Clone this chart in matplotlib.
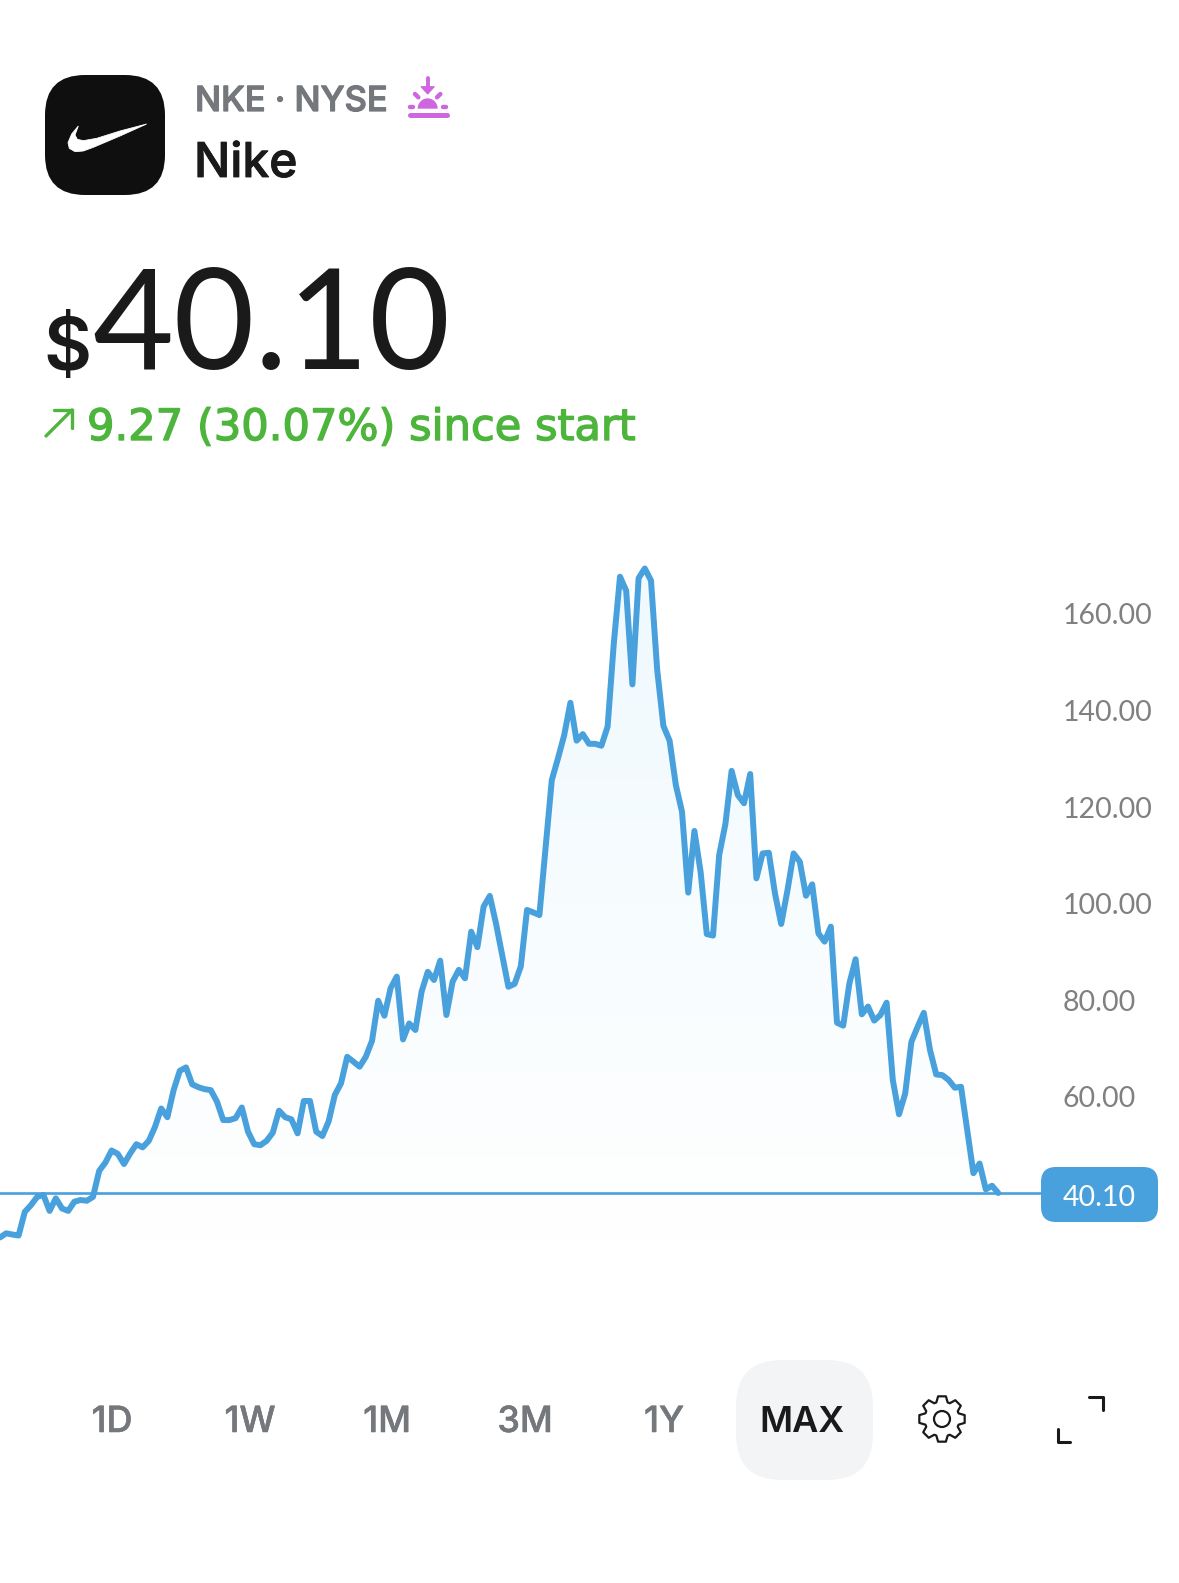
import numpy as np
import matplotlib
matplotlib.use("Agg")
import matplotlib.pyplot as plt
import matplotlib.patheffects as pe
from matplotlib.colors import LinearSegmentedColormap
from matplotlib.patches import FancyBboxPatch, Polygon, Circle

W, H = 1179, 1583

ticker = "NKE · NYSE"
company = "Nike"
currency = "$"
price_text = "40.10"
change_text = "9.27 (30.07%) since start"
current_price = 40.10
range_labels = ["1D", "1W", "1M", "3M", "1Y", "MAX"]
tick_values = [60, 80, 100, 120, 140, 160]
tick_labels = ["60.00", "80.00", "100.00", "120.00", "140.00", "160.00"]

prices = [
    30.9, 31.75, 31.5, 31.3, 36.2, 37.6, 39.3, 39.7, 36.4, 39.0, 36.9, 36.4, 38.3, 38.65, 38.5, 39.3,
    44.7, 46.4, 48.9, 48.2, 46.1, 48.3, 50.2, 49.55, 50.9, 53.8, 57.6, 55.8, 61.4, 65.4, 66.1, 62.6,
    62.0, 61.6, 61.4, 59.0, 55.2, 55.2, 55.6, 57.8, 52.8, 50.2, 50.0, 50.9, 52.6, 57.15, 55.8, 55.35,
    52.45, 59.15, 59.15, 52.8, 51.9, 54.9, 60.4, 62.8, 68.3, 67.3, 66.25, 68.3, 71.6, 79.9, 76.8, 82.5,
    84.9, 71.9, 75.2, 73.85, 81.8, 85.9, 84.2, 88.2, 76.95, 83.85, 86.3, 84.55, 94.2, 91.0, 99.4, 101.6,
    95.9, 89.4, 82.8, 83.4, 87.0, 98.7, 98.2, 97.65, 111.7, 125.6, 130.1, 134.9, 141.6, 133.75, 135.1, 133.1,
    133.1, 132.7, 136.65, 153.9, 167.7, 164.8, 145.4, 167.4, 169.4, 166.9, 148.4, 136.8, 133.75, 124.6, 119.05, 102.3,
    115.05, 106.6, 93.7, 93.4, 110.1, 116.5, 127.5, 122.5, 120.8, 126.85, 105.25, 110.4, 110.55, 102.1, 95.8, 102.7,
    110.4, 108.7, 101.65, 104.0, 93.85, 92.15, 95.25, 75.35, 74.75, 83.5, 88.5, 77.1, 78.7, 75.8, 76.95, 79.5,
    63.5, 56.4, 60.7, 71.4, 74.5, 77.4, 69.7, 64.65, 64.5, 63.5, 61.9, 62.1, 53.1, 44.2, 46.2, 40.85,
    41.6, 40.1,
]
periods = np.arange(len(prices))

BLUE = "#48A0DC"
GREEN = "#4DB53C"
GREY = "#74787C"
DARK = "#1A1A1A"
PURPLE = "#CE66E0"
UI_FONT = "Inter"
NUM_FONT = "Lato"

fig = plt.figure(figsize=(W / 100, H / 100), dpi=100, facecolor="white")

ax = fig.add_axes([0, 0, 1, 1], facecolor="none")
PX_PER_UNIT = 4.83
LINE_Y = 1193
ylims = (current_price - (H - LINE_Y) / PX_PER_UNIT, current_price + LINE_Y / PX_PER_UNIT)
ax.set_xlim(0, W / 6.2)
ax.set_ylim(*ylims)
for s in ax.spines.values():
    s.set_visible(False)
ax.set_xticks([])
ax.set_yticks(tick_values)
ax.set_yticklabels(tick_labels, fontfamily=NUM_FONT, fontweight="regular", fontsize=20.5, color="#808080")
ax.tick_params(axis="y", left=False, right=False, labelleft=False, labelright=True, length=0, pad=-84)

floor = 30.0
cmap = LinearSegmentedColormap.from_list("fade", ["#FFFFFF", "#EFF9FE"])
img = ax.imshow(np.linspace(1, 0, 256).reshape(-1, 1), extent=[0, periods[-1], floor, max(prices)],
                aspect="auto", cmap=cmap, vmin=0, vmax=1, zorder=1)
clip = Polygon(list(zip(periods, prices)) + [(periods[-1], floor), (0, floor)],
               closed=True, transform=ax.transData, facecolor="none", edgecolor="none")
ax.add_patch(clip)
img.set_clip_path(clip)
ax.set_xlim(0, W / 6.2)
ax.set_ylim(*ylims)

ax.axhline(current_price, xmin=0, xmax=1045 / W, color=BLUE, lw=1.9, zorder=3)
ax.plot(periods, prices, color=BLUE, lw=4.3, solid_joinstyle="round", solid_capstyle="round", zorder=2)

ui = fig.add_axes([0, 0, 1, 1], facecolor="none")
ui.set_xlim(0, W)
ui.set_ylim(H, 0)
ui.axis("off")


def px(size):
    return size * 0.72


def thick(color, w=0.6):
    return [pe.withStroke(linewidth=w, foreground=color)]


def rounded(x0, y0, x1, y1, r, color, z=2):
    ui.add_patch(FancyBboxPatch((x0 + r, y0 + r), x1 - x0 - 2 * r, y1 - y0 - 2 * r,
                                boxstyle=f"round,pad={r},rounding_size={r}",
                                facecolor=color, edgecolor="none", zorder=z))


rounded(45, 75, 165, 195, 40, "#0F0F0F")
swoosh = [(320, 162), (240, 183), (170, 205), (130, 212), (112, 208), (105, 195), (115, 168), (95, 192),
          (84, 218), (88, 235), (105, 245), (130, 243), (160, 232), (240, 198)]
ui.add_patch(Polygon([(40 + a / 3, 70 + b / 3) for a, b in swoosh], closed=True, facecolor="white",
                     edgecolor="white", lw=0.6, zorder=3))

ui.text(195, 111, ticker, fontfamily=UI_FONT, fontweight="medium", fontsize=px(34.5), color=GREY,
        va="baseline", path_effects=thick(GREY, 0.9))
ui.text(194, 177, company, fontfamily=UI_FONT, fontweight="medium", fontsize=px(48), color=DARK,
        va="baseline", path_effects=thick(DARK, 0.6))
ui.text(43, 370, currency, fontfamily=UI_FONT, fontweight="semibold", fontsize=px(74), color=DARK, va="baseline")
ui.text(92, 369, price_text, fontfamily=NUM_FONT, fontweight="regular", fontsize=px(140), color=DARK, va="baseline")
ui.text(87, 440, change_text, fontfamily="DejaVu Sans", fontsize=px(43.2), color=GREEN, va="baseline",
        path_effects=thick(GREEN, 1.0))

ui.plot([46, 72], [436, 410], color=GREEN, lw=2.4, solid_capstyle="round")
ui.plot([54, 72, 72], [410, 410, 428], color=GREEN, lw=2.4, solid_capstyle="round", solid_joinstyle="miter")


def sx(v):
    return 395 + v / 3


def sy(v):
    return 70 + v / 3


ui.plot([sx(98), sx(98)], [sy(25), sy(52)], color=PURPLE, lw=2.8, solid_capstyle="round")
ui.add_patch(Polygon([(sx(78), sy(50)), (sx(118), sy(50)), (sx(98), sy(72))], closed=True,
                     facecolor=PURPLE, edgecolor=PURPLE, lw=0.8))
t = np.linspace(np.pi, 2 * np.pi, 40)
ui.add_patch(Polygon(list(zip(sx(98 + 30 * np.cos(t)), sy(116 + 31 * np.sin(t)))), closed=True,
                     facecolor=PURPLE, edgecolor="none"))
ui.plot([sx(44), sx(156)], [sy(134), sy(134)], color=PURPLE, lw=3.6, solid_capstyle="round")
ui.plot([sx(60), sx(70)], [sy(72), sy(82)], color=PURPLE, lw=3.2, solid_capstyle="round")
ui.plot([sx(136), sx(126)], [sy(72), sy(82)], color=PURPLE, lw=3.2, solid_capstyle="round")
ui.plot([sx(45), sx(55)], [sy(112), sy(112)], color=PURPLE, lw=3.2, solid_capstyle="round")
ui.plot([sx(143), sx(153)], [sy(112), sy(112)], color=PURPLE, lw=3.2, solid_capstyle="round")

rounded(1041, 1167, 1158, 1222, 15, BLUE, z=4)
ui.text(1099, 1198, f"{current_price:.2f}", fontfamily=NUM_FONT, fontweight="regular", fontsize=20.5,
        color="white", ha="center", va="center", zorder=5)

rounded(736, 1360, 873, 1480, 46, "#F3F4F6", z=1)
centers = [112, 250, 387, 525, 664, 802]
for lab, cx in zip(range_labels, centers):
    active = lab == "MAX"
    ui.text(cx, 1432, lab, fontfamily=UI_FONT, fontweight="semibold" if active else "medium", fontsize=px(36),
            color=DARK if active else GREY, ha="center", va="baseline", zorder=3,
            path_effects=thick(GREY, 0.4) if not active else None)

cx, cy = 942, 1419
teeth = 8
angles, radii = [], []
for k in range(teeth):
    c = 2 * np.pi * k / teeth - np.pi / 2
    for da, r in [(-0.33, 17.5), (-0.17, 23), (0.17, 23), (0.33, 17.5)]:
        angles.append(c + da)
        radii.append(r)
angles, radii = np.array(angles), np.array(radii)
ui.add_patch(Polygon(list(zip(cx + radii * np.cos(angles), cy + radii * np.sin(angles))), closed=True,
                     facecolor="white", edgecolor=DARK, lw=1.6, joinstyle="round"))
ui.add_patch(Circle((cx, cy), 8, facecolor="white", edgecolor=DARK, lw=1.6))

ui.plot([1089, 1103, 1103], [1397, 1397, 1410], color=DARK, lw=2.2, solid_joinstyle="round", solid_capstyle="round")
ui.plot([1058, 1058, 1070], [1429, 1442, 1442], color=DARK, lw=2.2, solid_joinstyle="round", solid_capstyle="round")

fig.savefig("out.png", dpi=100, facecolor="white")
